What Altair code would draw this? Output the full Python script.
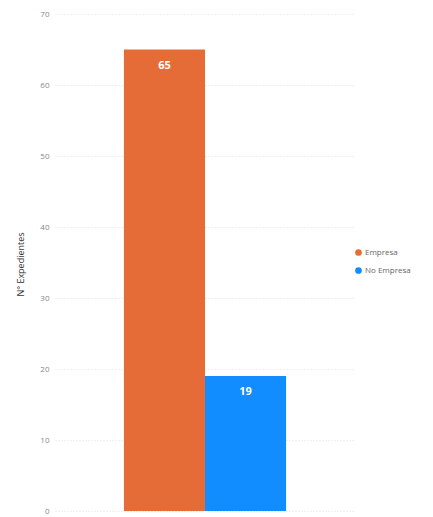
import altair as alt
import pandas as pd

series = ["Empresa", "No Empresa"]
values = [65, 19]
colors = ["#E66C37", "#118DFF"]
y_ticks = [0, 10, 20, 30, 40, 50, 60, 70]

df = pd.DataFrame({"tipo": series, "n": values})

x = alt.X("tipo:N", axis=None, sort=series,
          scale=alt.Scale(paddingInner=0, paddingOuter=0.85))
y = alt.Y("n:Q", title="N° Expedientes",
          scale=alt.Scale(domain=[0, 70], nice=False),
          axis=alt.Axis(values=y_ticks, domain=False, ticks=False,
                        labelColor="#888888", labelFontSize=8, labelFont="Open Sans",
                        labelPadding=6, titleFont="Open Sans", titleFontSize=9,
                        titleFontWeight="normal", titleColor="#333333",
                        titleX=-35, titleY=250, titleBaseline="middle",
                        gridColor="#e2e2e2", gridDash=[1, 2], gridWidth=1))

bars = alt.Chart(df).mark_bar().encode(
    x=x, y=y,
    color=alt.Color("tipo:N", sort=series,
                    scale=alt.Scale(domain=series, range=colors),
                    legend=alt.Legend(title=None, orient="none", legendX=299, legendY=234,
                                      symbolType="circle", symbolSize=45,
                                      labelFontSize=8, labelFont="Open Sans",
                                      labelColor="#666666", rowPadding=9,
                                      symbolOffset=0, labelOffset=2))
)

labels = alt.Chart(df).mark_text(baseline="top", dy=10, color="white",
                                 fontWeight="bold", fontSize=11,
                                 font="Open Sans").encode(
    x=x, y=alt.Y("n:Q"), text="n:Q"
)

chart = (bars + labels).properties(
    width=300, height=497, background="white",
    padding={"left": 47, "top": 6, "right": 70, "bottom": 6},
    autosize=alt.AutoSizeParams(type="none")
).configure_view(strokeWidth=0, stroke=None)

chart.save("out.html", embed_options={"renderer": "svg", "actions": False})
